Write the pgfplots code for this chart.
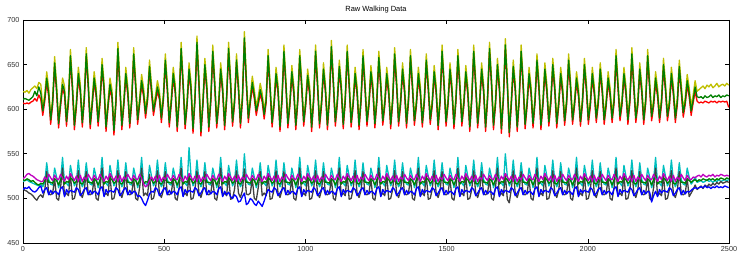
\documentclass[border=0pt]{standalone}
\usepackage{pgfplots}
\usepackage{pgfplotstable}
\pgfplotsset{compat=1.18}
\usepackage{fontspec}
\setmainfont{Liberation Sans}
\definecolor{mY}{rgb}{0.75,0.75,0}
\definecolor{mG}{rgb}{0,0.5,0}
\definecolor{mR}{rgb}{1,0,0}
\definecolor{mC}{rgb}{0,0.75,0.75}
\definecolor{mM}{rgb}{0.75,0,0.75}
\definecolor{mB}{rgb}{0,0,1}
\definecolor{mK}{rgb}{0.25,0.25,0.25}
\pgfplotstableread{
x Y G R M L C K B
0 620 611 607 522 521 519 511 510
7 619 612 606 524 520 520 509 512
14 621 611 607 527 522 521 508 511
21 618 610 606 528 521 519 506 513
28 622 612 608 526 519 518 505 510
35 624 614 609 525 520 517 503 508
42 626 620 612 523 518 516 500 507
49 623 615 609 521 516 515 498 509
56 630 625 616 520 515 514 502 512
63 628 618 611 519 517 516 504 514
70 602 598 593 519 516 513 501 506
77 617 612 609 524 520 518 509 510
84 642 635 630 521 525 540 530 512
91 624 618 614 527 518 521 505 504
98 592 588 583 523 518 516 504 509
105 613 608 605 520 517 515 506 505
112 659 652 647 526 522 534 522 508
119 628 622 618 522 520 524 500 507
126 588 584 579 521 515 512 498 504
133 611 606 603 527 521 520 512 511
140 635 628 623 523 526 546 534 513
147 626 620 616 519 516 518 503 502
154 590 586 581 525 519 517 506 510
161 615 610 607 521 518 514 503 506
168 667 660 655 528 523 537 527 509
175 631 625 621 524 521 525 499 508
182 586 582 577 520 517 514 500 507
189 610 605 602 525 519 519 510 512
196 647 640 635 519 524 543 531 510
203 628 622 618 526 517 520 506 503
210 589 585 580 519 516 513 501 506
217 617 612 609 524 520 518 509 510
224 669 662 657 521 525 540 530 512
231 634 628 624 527 518 521 505 504
238 587 583 578 523 518 516 504 509
245 611 606 603 520 517 515 506 505
252 642 635 630 526 522 534 522 508
259 624 618 614 522 520 524 500 507
266 590 586 581 521 515 512 498 504
273 615 610 607 527 521 520 512 511
280 657 650 645 523 526 546 534 513
287 630 624 620 519 516 518 503 502
294 584 580 575 525 519 517 506 510
301 609 604 601 521 518 514 503 506
308 635 628 623 528 523 537 527 509
315 622 616 612 524 521 525 499 508
322 580 576 571 520 517 514 500 507
329 613 608 605 525 519 519 510 512
336 675 668 663 519 524 543 531 510
343 632 626 622 526 517 520 506 503
350 586 582 577 519 516 513 501 506
357 611 606 603 524 520 518 509 510
364 647 640 635 521 525 540 530 512
371 626 620 616 527 518 521 505 504
378 588 584 579 523 518 516 504 509
385 615 610 607 520 517 515 506 505
392 669 662 657 526 522 534 522 508
399 633 627 623 522 520 524 500 507
406 592 588 583 521 515 512 498 502
413 613 608 605 527 521 520 512 503
420 639 632 627 523 526 546 534 500
427 624 618 614 516 516 518 503 495
434 599 595 590 513 519 517 506 492
441 617 612 609 515 518 514 503 498
448 655 648 643 520 523 537 527 505
455 628 622 618 524 521 525 499 508
462 602 598 593 520 517 514 500 507
469 615 610 607 525 519 519 510 512
476 632 625 620 519 524 543 531 510
483 621 615 611 526 517 520 506 503
490 594 590 585 519 516 513 501 506
497 617 612 609 524 520 518 509 510
504 662 655 650 521 525 540 530 512
511 630 624 620 527 518 521 505 504
518 589 585 580 523 518 516 504 509
525 613 608 605 520 517 515 506 505
532 647 640 635 526 522 534 522 508
539 628 622 618 522 520 524 500 507
546 584 580 575 521 515 512 498 504
553 615 610 607 527 521 520 512 511
560 675 668 663 523 526 546 534 513
567 634 628 624 519 516 518 503 502
574 587 583 578 525 519 517 506 510
581 611 606 603 521 518 514 503 506
588 652 645 640 528 523 557 527 509
595 630 624 620 524 521 525 499 508
602 582 578 573 520 517 514 500 507
609 617 612 609 525 519 519 510 512
616 682 675 670 519 524 543 531 510
623 636 630 626 526 517 520 506 503
630 579 575 570 519 516 513 501 506
637 611 606 603 524 520 518 509 510
644 657 650 645 521 525 540 530 512
651 630 624 620 527 518 521 505 504
658 584 580 575 523 518 516 504 509
665 615 610 607 520 517 515 506 505
672 672 665 660 526 522 534 522 508
679 634 628 624 522 520 524 500 507
686 588 584 579 521 515 512 498 504
693 611 606 603 527 521 520 512 511
700 652 645 640 523 526 546 534 513
707 628 622 618 519 516 518 503 502
714 586 582 577 525 519 517 506 508
721 617 612 609 521 518 514 503 504
728 675 668 663 528 523 537 527 507
735 636 630 626 524 521 525 499 502
742 590 586 581 520 517 514 500 500
749 613 608 605 525 519 519 510 504
756 662 655 650 519 524 543 531 502
763 630 624 620 526 517 520 506 496
770 588 584 579 519 516 513 501 497
777 617 612 609 524 520 518 509 502
784 687 680 675 521 525 550 533 506
791 636 630 626 527 518 521 505 493
798 594 590 585 523 518 516 504 495
805 615 610 607 520 517 515 506 500
812 637 630 625 526 522 534 522 498
819 622 616 612 522 520 524 500 494
826 603 598 593 521 515 512 498 492
833 614 608 605 527 521 520 512 497
840 629 622 617 523 526 540 530 494
847 618 612 608 519 516 518 503 491
854 598 594 589 525 519 517 506 497
861 615 610 607 521 518 514 503 504
868 667 660 655 528 523 537 527 510
875 630 624 620 524 521 525 499 508
882 589 585 580 520 517 514 500 507
889 611 606 603 525 519 519 510 512
896 647 640 635 519 524 543 531 510
903 628 622 618 526 517 520 506 503
910 584 580 575 519 516 513 501 506
917 615 610 607 524 520 518 509 510
924 672 665 660 521 525 540 530 512
931 634 628 624 527 518 521 505 504
938 588 584 579 523 518 516 504 509
945 611 606 603 520 517 515 506 505
952 649 642 637 526 522 534 522 508
959 626 620 616 522 520 524 500 507
966 586 582 577 521 515 512 498 504
973 615 610 607 527 521 520 512 511
980 667 660 655 523 526 546 534 513
987 632 626 622 519 516 518 503 502
994 590 586 581 525 519 517 506 510
1001 611 606 603 521 518 514 503 506
1008 645 638 633 528 523 537 527 509
1015 626 620 616 524 521 525 499 508
1022 584 580 575 520 517 514 500 507
1029 615 610 607 525 519 519 510 512
1036 672 665 660 519 524 543 531 510
1043 634 628 624 526 517 520 506 503
1050 588 584 579 519 516 513 501 506
1057 611 606 603 524 520 518 509 510
1064 652 645 640 521 525 540 530 512
1071 628 622 618 527 518 521 505 504
1078 586 582 577 523 518 516 504 509
1085 617 612 609 520 517 515 506 505
1092 677 670 665 526 522 534 522 508
1099 636 630 626 522 520 524 500 507
1106 590 586 581 521 515 512 498 504
1113 613 608 605 527 521 520 512 511
1120 655 648 643 523 526 546 534 513
1127 630 624 620 519 516 518 503 502
1134 587 583 578 525 519 517 506 510
1141 615 610 607 521 518 514 503 506
1148 672 665 660 528 523 537 527 509
1155 634 628 624 524 521 525 499 508
1162 589 585 580 520 517 514 500 507
1169 611 606 603 525 519 519 510 512
1176 647 640 635 519 524 543 531 510
1183 626 620 616 526 517 520 506 503
1190 586 582 577 519 516 513 501 506
1197 615 610 607 524 520 518 509 510
1204 667 660 655 521 525 540 530 512
1211 632 626 622 527 518 521 505 504
1218 590 586 581 523 518 516 504 509
1225 611 606 603 520 517 515 506 505
1232 649 642 637 526 522 534 522 508
1239 628 622 618 522 520 524 500 507
1246 588 584 579 521 515 512 498 504
1253 615 610 607 527 521 520 512 511
1260 665 658 653 523 526 546 534 513
1267 632 626 622 519 516 518 503 502
1274 591 587 582 525 519 517 506 510
1281 611 606 603 521 518 514 503 506
1288 647 640 635 528 523 537 527 509
1295 626 620 616 524 521 525 499 508
1302 587 583 578 520 517 514 500 507
1309 615 610 607 525 519 519 510 512
1316 669 662 657 519 524 543 531 510
1323 634 628 624 526 517 520 506 503
1330 590 586 581 519 516 513 501 506
1337 612 607 604 524 520 518 509 510
1344 652 645 640 521 525 540 530 512
1351 628 622 618 527 518 521 505 504
1358 588 584 579 523 518 516 504 509
1365 615 610 607 520 517 515 506 505
1372 667 660 655 526 522 534 522 508
1379 632 626 622 522 520 524 500 507
1386 591 587 582 521 515 512 498 504
1393 611 606 603 527 521 520 512 511
1400 647 640 635 523 526 546 534 513
1407 626 620 616 519 516 518 503 502
1414 589 585 580 525 519 517 506 510
1421 614 609 606 521 518 514 503 506
1428 662 655 650 528 523 537 527 509
1435 631 625 621 524 521 525 499 508
1442 592 588 583 520 517 514 500 507
1449 611 606 603 525 519 519 510 512
1456 649 642 637 519 524 543 531 510
1463 627 621 617 526 517 520 506 503
1470 586 582 577 519 516 513 501 506
1477 615 610 607 524 520 518 509 510
1484 672 665 660 521 525 540 530 512
1491 634 628 624 527 518 521 505 504
1498 590 586 581 523 518 516 504 509
1505 612 607 604 520 517 515 506 505
1512 652 645 640 526 522 534 522 508
1519 628 622 618 522 520 524 500 507
1526 587 583 578 521 515 512 498 504
1533 615 610 607 527 521 520 512 511
1540 667 660 655 523 526 546 534 513
1547 632 626 622 519 516 518 503 502
1554 590 586 581 525 519 517 506 510
1561 611 606 603 521 518 514 503 506
1568 649 642 637 528 523 537 527 509
1575 626 620 616 524 521 525 499 508
1582 584 580 575 520 517 514 500 507
1589 616 611 608 525 519 519 510 512
1596 672 665 660 519 524 543 531 510
1603 634 628 624 526 517 520 506 503
1610 588 584 579 519 516 513 501 506
1617 612 607 604 524 520 518 509 510
1624 652 645 640 521 525 540 530 512
1631 628 622 618 527 518 521 505 504
1638 584 580 575 523 518 516 504 509
1645 617 612 609 520 517 515 506 505
1652 675 668 663 526 522 534 522 508
1659 636 630 626 522 520 524 500 507
1666 586 582 577 521 515 512 498 504
1673 611 606 603 527 521 520 512 511
1680 657 650 645 523 526 546 534 513
1687 630 624 620 519 516 518 503 502
1694 582 578 573 525 519 517 506 510
1701 617 612 609 521 518 514 503 506
1708 679 672 667 528 523 550 527 509
1715 636 630 626 524 521 525 499 508
1722 578 574 569 520 517 514 495 507
1729 611 606 603 525 519 519 510 512
1736 655 648 643 519 524 543 531 510
1743 630 624 620 526 517 520 506 503
1750 584 580 575 519 516 513 501 506
1757 616 611 608 524 520 518 509 510
1764 672 665 660 521 525 540 530 512
1771 634 628 624 527 518 521 505 504
1778 587 583 578 523 518 516 504 509
1785 611 606 603 520 517 515 506 505
1792 647 640 635 526 522 534 522 508
1799 626 620 616 522 520 524 500 507
1806 588 584 579 521 515 512 498 504
1813 614 609 606 527 521 520 512 511
1820 662 655 650 523 526 546 534 513
1827 631 625 621 519 516 518 503 502
1834 586 582 577 525 519 517 506 510
1841 611 606 603 521 518 514 503 506
1848 652 645 640 528 523 537 527 509
1855 628 622 618 524 521 525 499 508
1862 590 586 581 520 517 514 500 507
1869 613 608 605 525 519 519 510 512
1876 657 650 645 519 524 543 531 510
1883 630 624 620 526 517 520 506 503
1890 588 584 579 519 516 513 501 506
1897 611 606 603 524 520 518 509 510
1904 647 640 635 521 525 540 530 512
1911 626 620 616 527 518 521 505 504
1918 591 587 582 523 518 516 504 509
1925 613 608 605 520 517 515 506 505
1932 662 655 650 526 522 534 522 508
1939 631 625 621 522 520 524 500 507
1946 592 588 583 521 515 512 498 504
1953 611 606 603 527 521 520 512 511
1960 642 635 630 523 526 546 534 513
1967 624 618 614 519 516 518 503 502
1974 590 586 581 525 519 517 506 510
1981 613 608 605 521 518 514 503 506
1988 657 650 645 528 523 537 527 509
1995 630 624 620 524 521 525 499 508
2002 592 588 583 520 517 514 500 507
2009 611 606 603 525 519 519 510 512
2016 647 640 635 519 524 543 531 510
2023 626 620 616 526 517 520 506 503
2030 594 590 585 519 516 513 501 506
2037 613 608 605 524 520 518 509 510
2044 652 645 640 521 525 540 530 512
2051 628 622 618 527 518 521 505 504
2058 592 588 583 523 518 516 504 509
2065 611 606 603 520 517 515 506 505
2072 642 635 630 526 522 534 522 508
2079 624 618 614 522 520 524 500 507
2086 594 590 585 521 515 512 498 504
2093 614 609 606 527 521 520 512 511
2100 667 660 655 523 526 546 534 513
2107 632 626 622 519 516 518 503 502
2114 596 592 587 525 519 517 506 510
2121 612 607 604 521 518 514 503 506
2128 647 640 635 528 523 537 527 509
2135 626 620 616 524 521 525 499 508
2142 592 588 583 520 517 514 500 507
2149 615 610 607 525 519 519 510 512
2156 669 662 657 519 524 543 531 510
2163 632 626 622 526 517 520 506 503
2170 594 590 585 519 516 513 501 506
2177 611 606 603 524 520 518 509 510
2184 652 645 640 521 525 540 530 512
2191 628 622 618 527 518 521 505 504
2198 592 588 583 523 518 516 504 509
2205 614 609 606 520 517 515 506 505
2212 667 660 655 526 522 534 522 508
2219 632 626 622 522 520 524 500 507
2226 596 592 587 521 515 512 498 496
2233 611 606 603 527 521 520 512 503
2240 642 635 630 523 526 546 534 508
2247 624 618 614 519 516 518 503 502
2254 594 590 585 525 519 517 506 510
2261 613 608 605 521 518 514 503 506
2268 657 650 645 528 523 537 527 509
2275 630 624 620 524 521 525 499 508
2282 596 592 587 520 517 514 500 507
2289 611 606 603 525 519 519 510 512
2296 647 640 635 519 524 543 531 510
2303 626 620 616 526 517 520 506 503
2310 594 590 585 519 516 513 501 506
2317 613 608 605 524 520 518 509 510
2324 655 648 643 521 525 540 530 512
2331 628 622 618 527 518 521 505 504
2338 600 596 591 523 518 516 504 509
2345 613 608 605 520 517 515 506 505
2352 639 632 627 526 522 534 522 508
2359 624 618 614 522 520 524 502 507
2366 603 598 593 521 518 516 506 509
2373 616 610 607 524 520 519 510 511
2380 632 625 620 523 521 524 515 512
2387 620 614 609 525 519 518 510 511
2394 622 613 607 526 521 519 512 512
2401 624 614 608 524 520 520 514 513
2408 626 612 607 527 522 518 511 512
2415 623 615 609 525 521 519 515 514
2422 627 613 608 524 520 521 513 512
2429 625 614 607 526 522 519 516 513
2436 628 616 609 525 521 520 514 511
2443 624 613 608 527 522 518 517 513
2450 626 615 609 524 520 520 515 512
2457 629 614 607 526 522 519 518 514
2464 625 616 609 525 521 521 516 512
2471 627 613 608 527 523 519 519 513
2478 628 615 609 526 522 520 517 512
2485 626 614 608 525 521 521 518 514
2492 629 616 609 526 523 520 519 513
2499 627 615 602 525 522 521 518 512
}\walk
\begin{document}
\begin{tikzpicture}
\begin{axis}[
  scale only axis, width=706bp, height=223bp,
  xmin=0, xmax=2500, ymin=450, ymax=700,
  xtick={0,500,...,2500}, ytick={450,500,...,700},
  tick align=inside, major tick length=4bp,
  tick style={black, line width=0.6bp},
  axis line style={line width=0.7bp},
  tick label style={font=\fontsize{7.3}{8}\selectfont, text=black!80},
  /pgf/number format/assume math mode=true,
  /pgf/number format/set thousands separator={},
  scaled ticks=false,
  title={Raw Walking Data},
  title style={font=\fontsize{7.5}{8}\selectfont, yshift=-2.5bp},
  every axis plot/.append style={line width=1.3bp, line join=round},
]
\addplot[mC] table[x=x,y=C]{\walk};
\addplot[mK] table[x=x,y=K]{\walk};
\addplot[mG] table[x=x,y=L]{\walk};
\addplot[mM] table[x=x,y=M]{\walk};
\addplot[mB] table[x=x,y=B]{\walk};
\addplot[mY] table[x=x,y=Y]{\walk};
\addplot[mR] table[x=x,y=R]{\walk};
\addplot[mG] table[x=x,y=G]{\walk};
\end{axis}
\pgfresetboundingbox
\path[use as bounding box] ([shift={(-23bp,-11bp)}]current axis.south west) rectangle ([shift={(9bp,20bp)}]current axis.north east);
\end{tikzpicture}
\end{document}
